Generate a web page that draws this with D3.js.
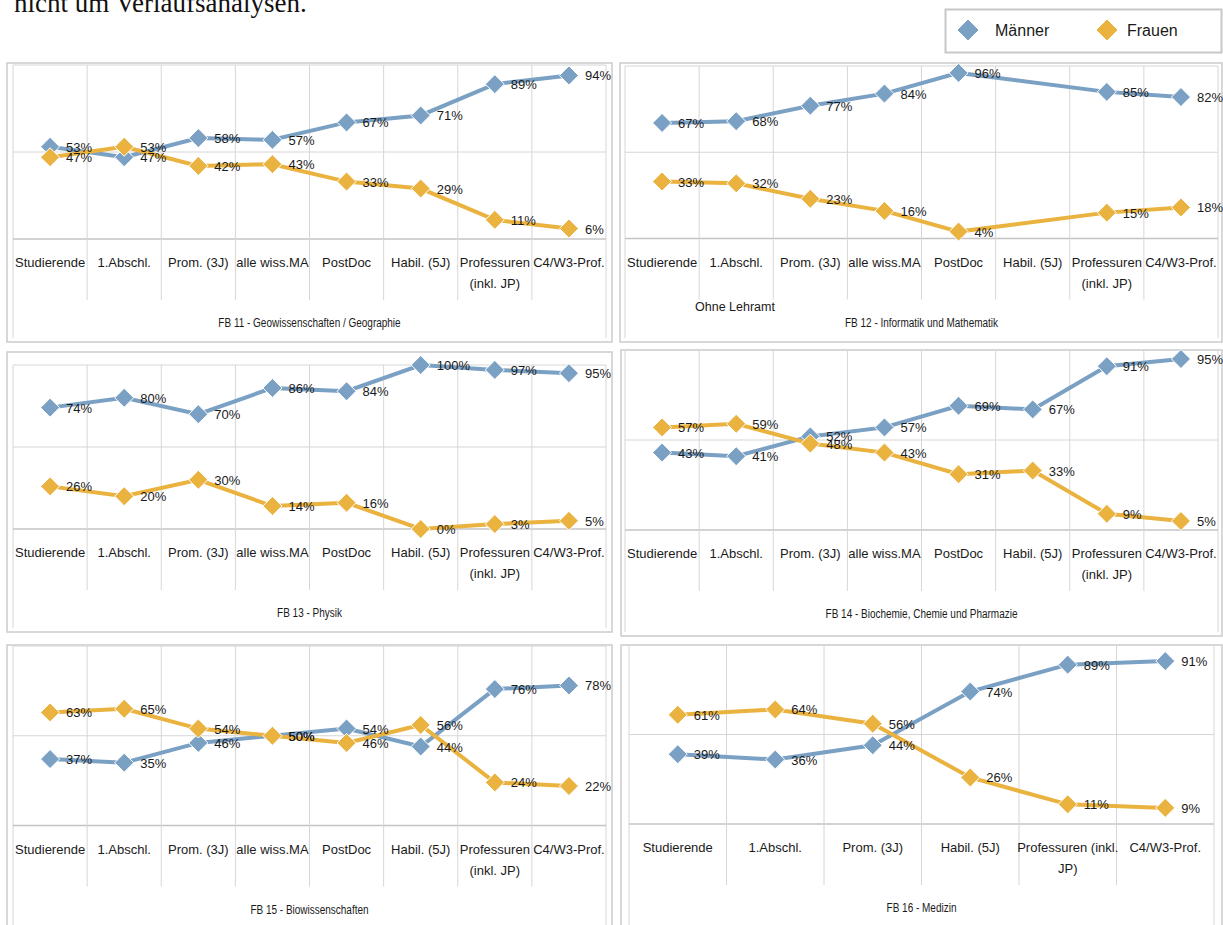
<!DOCTYPE html>
<html>
<head>
<meta charset="utf-8">
<script src="https://cdn.jsdelivr.net/npm/d3@7"></script>
<style>
  body { margin: 0; background: #fff; }
  svg { display: block; font-family: "Liberation Sans", Arial, sans-serif; }
</style>
</head>
<body>
<svg id="chart" width="1223" height="925"></svg>
<script>
// categories (\n = line break in the axis label)
var cats8 = ["Studierende", "1.Abschl.", "Prom. (3J)", "alle wiss.MA", "PostDoc", "Habil. (5J)", "Professuren\n(inkl. JP)", "C4/W3-Prof."];
var cats6 = ["Studierende", "1.Abschl.", "Prom. (3J)", "Habil. (5J)", "Professuren (inkl.\nJP)", "C4/W3-Prof."];

var titles = ["FB 11 - Geowissenschaften / Geographie", "FB 12 - Informatik und Mathematik",
              "FB 13 - Physik", "FB 14 - Biochemie, Chemie und Pharmazie",
              "FB 15 - Biowissenschaften", "FB 16 - Medizin"];

// shares in percent, null = no value
var fb11M = [53, 47, 58, 57, 67, 71, 89, 94];
var fb11F = [47, 53, 42, 43, 33, 29, 11, 6];
var fb12M = [67, 68, 77, 84, 96, null, 85, 82];
var fb12F = [33, 32, 23, 16, 4, null, 15, 18];
var fb13M = [74, 80, 70, 86, 84, 100, 97, 95];
var fb13F = [26, 20, 30, 14, 16, 0, 3, 5];
var fb14M = [43, 41, 52, 57, 69, 67, 91, 95];
var fb14F = [57, 59, 48, 43, 31, 33, 9, 5];
var fb15M = [37, 35, 46, 50, 54, 44, 76, 78];
var fb15F = [63, 65, 54, 50, 46, 56, 24, 22];
var fb16M = [39, 36, 44, 74, 89, 91];
var fb16F = [61, 64, 56, 26, 11, 9];

var blue = "#7aa0c4", gold = "#eab23e";

// layout of the six chart boxes
var panels = [
  {cats: cats8, m: fb11M, f: fb11F, box: [7, 63, 605, 279], px: [13, 606], py: [239, 65]},
  {cats: cats8, m: fb12M, f: fb12F, box: [620, 63, 602, 279], px: [625, 1218], py: [238.5, 66], note: "Ohne Lehramt"},
  {cats: cats8, m: fb13M, f: fb13F, box: [7, 352, 605, 280], px: [13, 606], py: [529, 365]},
  {cats: cats8, m: fb14M, f: fb14F, box: [621, 350, 601, 286], px: [625, 1218], py: [530, 350]},
  {cats: cats8, m: fb15M, f: fb15F, box: [7, 645, 605, 300], px: [13, 606], py: [825.5, 646]},
  {cats: cats6, m: fb16M, f: fb16F, box: [621, 645, 601, 300], px: [629, 1214], py: [824, 645]}
];

var svg = d3.select("#chart");

svg.append("text")
  .attr("x", 14).attr("y", 12)
  .style("font-family", "'Liberation Serif', 'DejaVu Serif', serif")
  .style("font-size", "27px").attr("fill", "#111")
  .text("nicht um Verlaufsanalysen.");

function diamond(r) {
  return "M0," + (-r) + "L" + r + ",0L0," + r + "L" + (-r) + ",0Z";
}

// legend
var leg = svg.append("g");
leg.append("rect").attr("x", 945.5).attr("y", 9.5).attr("width", 276).attr("height", 43)
  .attr("fill", "#fff").attr("stroke", "#c8c8c8").attr("stroke-width", 2);
[["Männer", blue, 968, 995], ["Frauen", gold, 1107, 1127]].forEach(function(l) {
  leg.append("path").attr("d", diamond(11))
    .attr("transform", "translate(" + l[2] + ",30)")
    .attr("fill", l[1]).attr("stroke", "#fff").attr("stroke-width", 1);
  leg.append("text").attr("x", l[3]).attr("y", 36)
    .style("font-size", "16px").attr("fill", "#1a1a1a").text(l[0]);
});

panels.forEach(function(p, i) {
  var g = svg.append("g");
  var b = p.box;
  var x = d3.scaleBand().domain(p.cats).range(p.px);
  var y = d3.scaleLinear().domain([0, 100]).range(p.py);
  var y0 = y(0), y100 = y(100);
  var bw = x.bandwidth();

  // outer frame
  g.append("rect").attr("x", b[0]).attr("y", b[1]).attr("width", b[2]).attr("height", b[3])
    .attr("fill", "none").attr("stroke", "#cbcbcb").attr("stroke-width", 1.5);
  // chart area frame
  g.append("path")
    .attr("d", "M" + p.px[0] + "," + (b[1] + b[3] - 4) + "V" + y100 + "H" + p.px[1] + "V" + (b[1] + b[3] - 4))
    .attr("fill", "none").attr("stroke", "#d6d6d6");

  // horizontal grid + axis line
  g.selectAll("line.h").data([50, 0]).enter().append("line")
    .attr("x1", p.px[0]).attr("x2", p.px[1])
    .attr("y1", function(d) { return y(d); }).attr("y2", function(d) { return y(d); })
    .attr("stroke", function(d) { return d === 0 ? "#c4c4c4" : "#d6d6d6"; })
    .attr("stroke-width", function(d) { return d === 0 ? 1.5 : 1; });

  // vertical band separators, running down through the label area
  g.selectAll("line.v").data(p.cats.slice(1)).enter().append("line")
    .attr("x1", function(d) { return x(d); }).attr("x2", function(d) { return x(d); })
    .attr("y1", y100).attr("y2", y0 + 61)
    .attr("stroke", "#d6d6d6");

  // category labels
  p.cats.forEach(function(c) {
    var lines = c.split("\n");
    var t = g.append("text").attr("text-anchor", "middle")
      .style("font-size", "13px").attr("fill", "#1a1a1a");
    lines.forEach(function(s, k) {
      t.append("tspan").attr("x", x(c) + bw / 2).attr("y", y0 + 28 + k * 21).text(s);
    });
  });

  // panel title, condensed like the original
  var cx = (p.px[0] + p.px[1]) / 2;
  g.append("text")
    .attr("transform", "translate(" + cx + "," + (y0 + 88) + ") scale(0.74,1)")
    .attr("text-anchor", "middle")
    .style("font-size", "13.5px").attr("fill", "#1a1a1a").text(titles[i]);

  if (p.note) {
    g.append("text").attr("x", 695).attr("y", 311)
      .style("font-size", "12.5px").attr("fill", "#1a1a1a").text(p.note);
  }

  var line = d3.line()
    .x(function(d) { return x(d.c) + bw / 2; })
    .y(function(d) { return y(d.v); });

  [[p.m, blue], [p.f, gold]].forEach(function(s) {
    var pts = p.cats.map(function(c, k) { return {c: c, v: s[0][k]}; })
      .filter(function(d) { return d.v !== null; });
    g.append("path").datum(pts).attr("d", line)
      .attr("fill", "none").attr("stroke", s[1]).attr("stroke-width", 4);
    g.selectAll(null).data(pts).enter().append("path")
      .attr("d", diamond(9.5))
      .attr("transform", function(d) { return "translate(" + (x(d.c) + bw / 2) + "," + y(d.v) + ")"; })
      .attr("fill", s[1]).attr("stroke", "#fff").attr("stroke-width", 1);
  });

  // data labels to the right of each point
  [p.m, p.f].forEach(function(vals) {
    p.cats.forEach(function(c, k) {
      if (vals[k] === null) return;
      g.append("text").attr("x", x(c) + bw / 2 + 16).attr("y", y(vals[k]) + 5)
        .style("font-size", "13px").attr("fill", "#1a1a1a").text(vals[k] + "%");
    });
  });
});
</script>
</body>
</html>
